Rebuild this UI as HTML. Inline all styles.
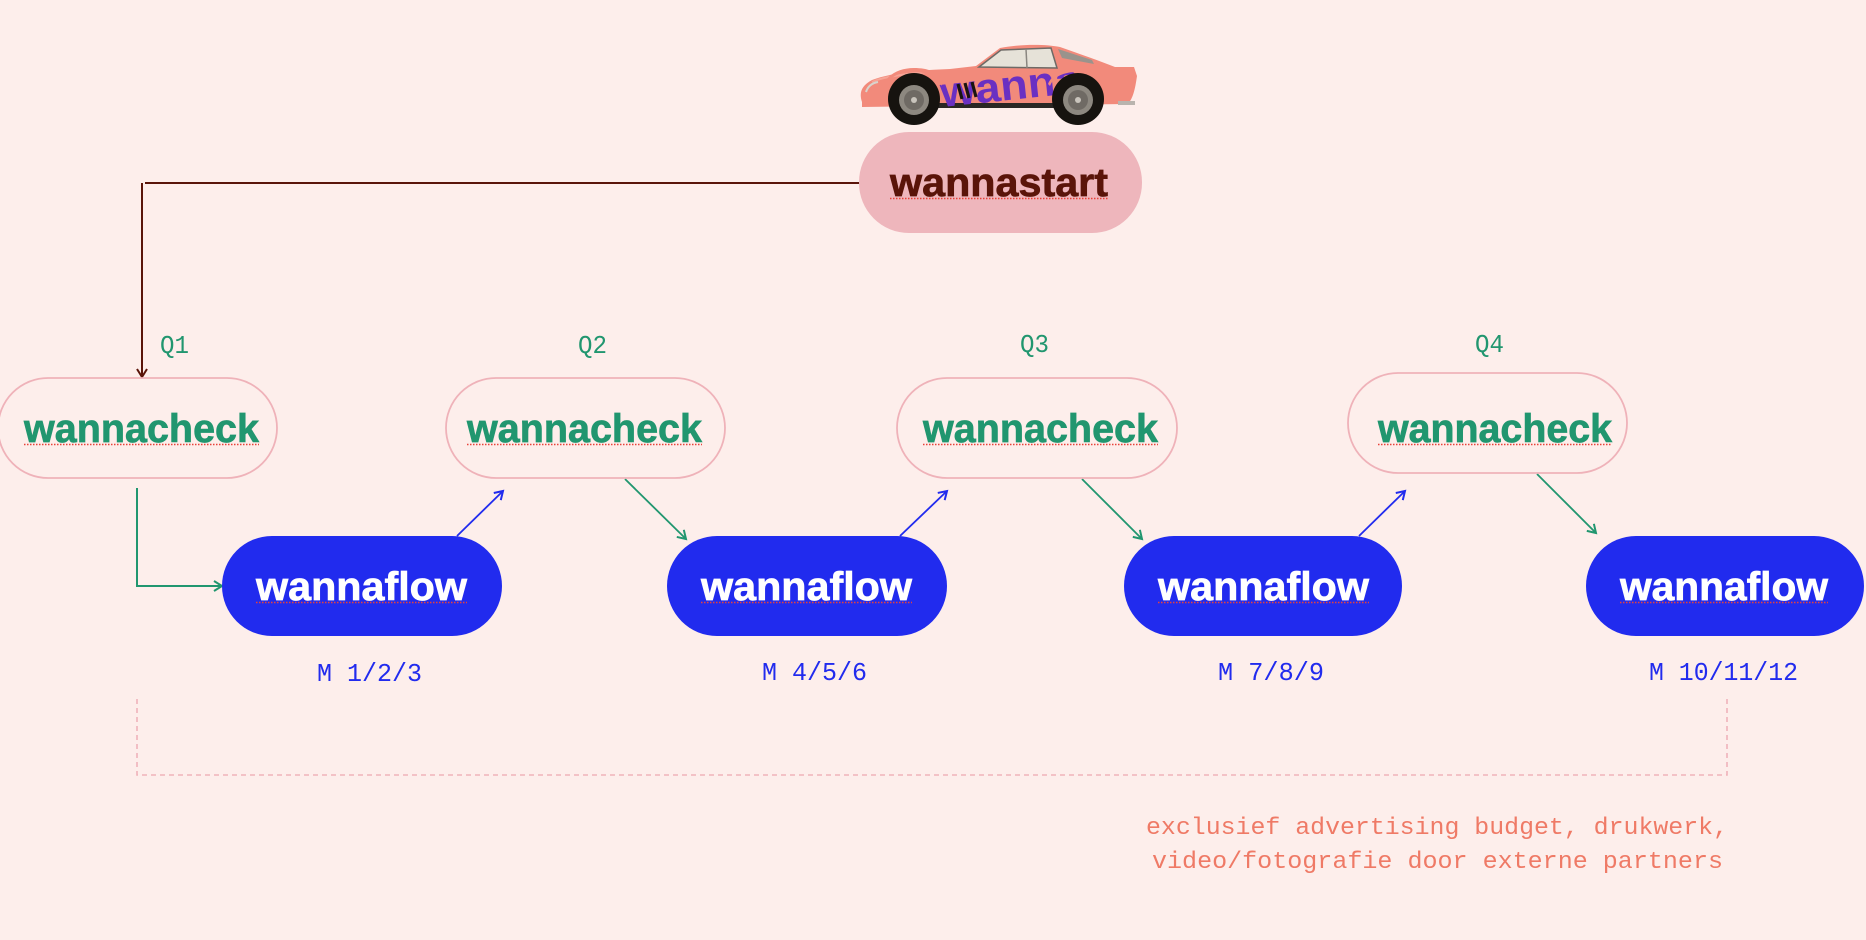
<!DOCTYPE html>
<html>
<head>
<meta charset="utf-8">
<style>
  html, body { margin: 0; padding: 0; background: #FDEEEB; }
  body { width: 1866px; height: 940px; overflow: hidden; }
  svg { display: block; }
  .pill { font-family: "Liberation Sans", "DejaVu Sans", sans-serif; font-weight: bold; font-size: 40px; }
  .mono { font-family: "Liberation Mono", "DejaVu Sans Mono", monospace; }
</style>
</head>
<body>
<svg width="1866" height="940" viewBox="0 0 1866 940" xmlns="http://www.w3.org/2000/svg">
  <defs>
    <marker id="mBrown" markerUnits="userSpaceOnUse" markerWidth="14" markerHeight="14" refX="10" refY="6" orient="auto">
      <path d="M2,1 L10,6 L2,11" fill="none" stroke="#5A1409" stroke-width="2"/>
    </marker>
    <marker id="mGreen" markerUnits="userSpaceOnUse" markerWidth="14" markerHeight="14" refX="10" refY="6" orient="auto">
      <path d="M2,1 L10,6 L2,11" fill="none" stroke="#21966F" stroke-width="2"/>
    </marker>
    <marker id="mBlue" markerUnits="userSpaceOnUse" markerWidth="14" markerHeight="14" refX="10" refY="6" orient="auto">
      <path d="M2,1 L10,6 L2,11" fill="none" stroke="#212BEE" stroke-width="2"/>
    </marker>
  </defs>

  <rect x="0" y="0" width="1866" height="940" fill="#FDEEEB"/>

  <!-- ===== Car ===== -->
  <g>
    <path d="M862,102 C859,93 861,86 872,80 C890,73 920,70 950,69 L976,66 L1000,48 C1020,44 1045,44 1060,47 C1080,54 1100,61 1115,67 L1134,67 L1137,76 C1135,90 1133,98 1128,104 L862,107 Z" fill="#F28A7B"/>
    <path d="M872,82 C880,78 900,74 930,72" stroke="#F7A597" stroke-width="2" fill="none"/>
    <path d="M979,67 L1001,50 L1051,48 L1057,68 Z" fill="#E6E2D8" stroke="#6E6A66" stroke-width="1.5"/>
    <line x1="1026" y1="49" x2="1027" y2="68" stroke="#8A8680" stroke-width="1.5"/>
    <path d="M1058,49 L1092,60 L1094,64 L1062,58 Z" fill="#9A938C"/>
    <path d="M866,92 C868,86 872,83 878,82" stroke="#D9D4CC" stroke-width="2" fill="none"/>
    <rect x="910" y="103" width="170" height="5" fill="#2A2724"/>
    <rect x="1118" y="101" width="17" height="4" fill="#B9B4AE"/>
    <text x="942" y="107" transform="rotate(-6 942 107)" textLength="140" lengthAdjust="spacingAndGlyphs" font-family="Liberation Sans, sans-serif" font-weight="bold" font-size="42" fill="#6A30C2">wanna</text>
    <g stroke="#1A1410" stroke-width="3.2">
      <line x1="958" y1="84" x2="962" y2="99"/>
      <line x1="965" y1="83" x2="969" y2="98"/>
      <line x1="972" y1="82" x2="976" y2="97"/>
    </g>
    <circle cx="914" cy="99" r="26" fill="#16130F"/>
    <circle cx="914" cy="100" r="15" fill="#8D8880"/>
    <circle cx="914" cy="100" r="10" fill="#6F6A64"/>
    <circle cx="914" cy="100" r="3" fill="#C9C4BC"/>
    <circle cx="1078" cy="99" r="26" fill="#16130F"/>
    <circle cx="1078" cy="100" r="15" fill="#8D8880"/>
    <circle cx="1078" cy="100" r="10" fill="#6F6A64"/>
    <circle cx="1078" cy="100" r="3" fill="#C9C4BC"/>
    <path d="M886,86 C890,76 900,72 914,72 C928,72 938,78 942,86 L942,80 C938,72 928,68 914,68 C900,68 888,74 884,84 Z" fill="#F28A7B"/>
    <path d="M1050,86 C1054,76 1064,72 1078,72 C1092,72 1102,78 1106,86 L1106,80 C1102,72 1092,68 1078,68 C1064,68 1052,74 1048,84 Z" fill="#F28A7B"/>
  </g>

  <!-- ===== Connectors ===== -->
  <line x1="145" y1="183" x2="860" y2="183" stroke="#5A1409" stroke-width="2"/>
  <line x1="142" y1="183" x2="142" y2="377" stroke="#5A1409" stroke-width="2" marker-end="url(#mBrown)"/>

  <path d="M137,488 L137,586 L222,586" fill="none" stroke="#21966F" stroke-width="2" marker-end="url(#mGreen)"/>

  <line x1="457" y1="536" x2="503" y2="491" stroke="#212BEE" stroke-width="1.8" marker-end="url(#mBlue)"/>
  <line x1="900" y1="536" x2="947" y2="491" stroke="#212BEE" stroke-width="1.8" marker-end="url(#mBlue)"/>
  <line x1="1359" y1="536" x2="1405" y2="491" stroke="#212BEE" stroke-width="1.8" marker-end="url(#mBlue)"/>

  <line x1="625" y1="479" x2="686" y2="539" stroke="#21966F" stroke-width="1.8" marker-end="url(#mGreen)"/>
  <line x1="1082" y1="479" x2="1142" y2="539" stroke="#21966F" stroke-width="1.8" marker-end="url(#mGreen)"/>
  <line x1="1537" y1="474" x2="1596" y2="533" stroke="#21966F" stroke-width="1.8" marker-end="url(#mGreen)"/>

  <!-- dashed bracket -->
  <path d="M137,699 L137,775 L1727,775 L1727,698" fill="none" stroke="#F0B3BA" stroke-width="1.6" stroke-dasharray="5 4"/>

  <!-- ===== Pills ===== -->
  <rect x="859" y="132" width="283" height="101" rx="50" ry="50" fill="#EEB6BC"/>
  <text class="pill" x="890" y="196" textLength="218" lengthAdjust="spacingAndGlyphs" fill="#5A1409" stroke="#5A1409" stroke-width="0.7">wannastart</text>
  <line x1="890" y1="198.5" x2="1108" y2="198.5" stroke="#E8423A" stroke-width="1.5" stroke-dasharray="1.5 1.5"/>

  <g fill="none" stroke="#EFB2B9" stroke-width="1.8">
    <rect x="-2" y="378" width="279" height="100" rx="50" ry="50"/>
    <rect x="446" y="378" width="279" height="100" rx="50" ry="50"/>
    <rect x="897" y="378" width="280" height="100" rx="50" ry="50"/>
    <rect x="1348" y="373" width="279" height="100" rx="50" ry="50"/>
  </g>
  <g class="pill" fill="#21966F" stroke="#21966F" stroke-width="0.7">
    <text x="24" y="442" textLength="235" lengthAdjust="spacingAndGlyphs">wannacheck</text>
    <text x="467" y="442" textLength="235" lengthAdjust="spacingAndGlyphs">wannacheck</text>
    <text x="923" y="442" textLength="235" lengthAdjust="spacingAndGlyphs">wannacheck</text>
    <text x="1378" y="442" textLength="234" lengthAdjust="spacingAndGlyphs">wannacheck</text>
  </g>
  <g stroke="#E8423A" stroke-width="1.5" stroke-dasharray="1.5 1.5">
    <line x1="24" y1="444.5" x2="259" y2="444.5"/>
    <line x1="467" y1="444.5" x2="702" y2="444.5"/>
    <line x1="923" y1="444.5" x2="1158" y2="444.5"/>
    <line x1="1378" y1="444.5" x2="1612" y2="444.5"/>
  </g>

  <g fill="#212BEE">
    <rect x="222" y="536" width="280" height="100" rx="50" ry="50"/>
    <rect x="667" y="536" width="280" height="100" rx="50" ry="50"/>
    <rect x="1124" y="536" width="278" height="100" rx="50" ry="50"/>
    <rect x="1586" y="536" width="278" height="100" rx="50" ry="50"/>
  </g>
  <g class="pill" fill="#FFFFFF" stroke="#FFFFFF" stroke-width="0.7">
    <text x="256" y="600" textLength="211" lengthAdjust="spacingAndGlyphs">wannaflow</text>
    <text x="701" y="600" textLength="211" lengthAdjust="spacingAndGlyphs">wannaflow</text>
    <text x="1158" y="600" textLength="211" lengthAdjust="spacingAndGlyphs">wannaflow</text>
    <text x="1620" y="600" textLength="208" lengthAdjust="spacingAndGlyphs">wannaflow</text>
  </g>
  <g stroke="#E8423A" stroke-width="1.5" stroke-dasharray="1.5 1.5">
    <line x1="256" y1="602.5" x2="467" y2="602.5"/>
    <line x1="701" y1="602.5" x2="912" y2="602.5"/>
    <line x1="1158" y1="602.5" x2="1369" y2="602.5"/>
    <line x1="1620" y1="602.5" x2="1828" y2="602.5"/>
  </g>

  <!-- ===== Labels ===== -->
  <g class="mono" font-size="26" fill="#21966F">
    <text x="160" y="353" textLength="29" lengthAdjust="spacingAndGlyphs">Q1</text>
    <text x="578" y="353" textLength="29" lengthAdjust="spacingAndGlyphs">Q2</text>
    <text x="1020" y="352" textLength="29" lengthAdjust="spacingAndGlyphs">Q3</text>
    <text x="1475" y="352" textLength="29" lengthAdjust="spacingAndGlyphs">Q4</text>
  </g>
  <g class="mono" font-size="26" fill="#212BEE">
    <text x="317" y="681" textLength="105" lengthAdjust="spacingAndGlyphs">M 1/2/3</text>
    <text x="762" y="680" textLength="105" lengthAdjust="spacingAndGlyphs">M 4/5/6</text>
    <text x="1218" y="680" textLength="106" lengthAdjust="spacingAndGlyphs">M 7/8/9</text>
    <text x="1649" y="680" textLength="149" lengthAdjust="spacingAndGlyphs">M 10/11/12</text>
  </g>
  <g class="mono" font-size="24" fill="#EF7A66">
    <text x="1146" y="834" textLength="582" lengthAdjust="spacingAndGlyphs">exclusief advertising budget, drukwerk,</text>
    <text x="1152" y="868" textLength="571" lengthAdjust="spacingAndGlyphs">video/fotografie door externe partners</text>
  </g>
</svg>
</body>
</html>
